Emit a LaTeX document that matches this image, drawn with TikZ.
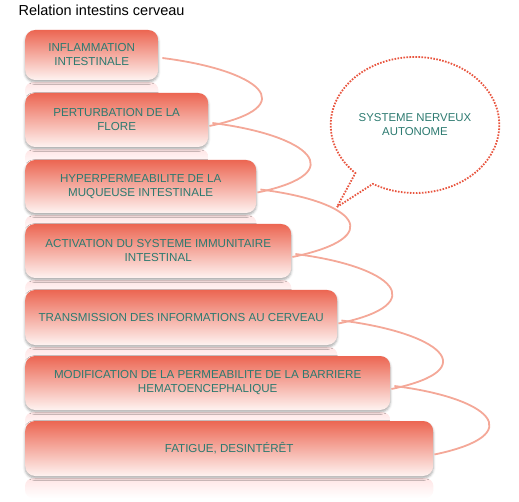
\documentclass[tikz,border=0pt]{standalone}
\usepackage{fontspec}
\setmainfont{Liberation Sans}
\usepackage{tikz}
\usetikzlibrary{shapes.callouts}
\usetikzlibrary{shadows.blur}
\usetikzlibrary{backgrounds}

\definecolor{boxtop}{RGB}{236,102,82}
\definecolor{boxbot}{RGB}{254,243,241}
\definecolor{txtteal}{RGB}{44,122,112}
\definecolor{linkred}{RGB}{244,168,152}
\definecolor{dotred}{RGB}{232,86,64}

\tikzset{
  stepbox/.style={rounded corners=10pt, top color=boxtop, bottom color=boxbot,
    anchor=west, inner sep=0pt, text=txtteal, align=center,
    font=\fontsize{11.6}{14}\selectfont,
    blur shadow={shadow xshift=0pt, shadow yshift=-2pt, shadow opacity=35, shadow blur radius=2.5pt}},
  mirror/.style={rounded corners=8pt, top color=red!10, bottom color=white},
  link/.style={draw=linkred, line width=1.8pt},
  bubble/.style={ellipse callout, draw=dotred, line width=1.8pt,
    dash pattern=on 1.6pt off 1.4pt, minimum width=160pt, minimum height=136pt,
    text=txtteal, align=center, font=\fontsize{11.4}{14}\selectfont}
}

\begin{document}
\begin{tikzpicture}[x=1pt,y=-1pt]
\useasboundingbox (0,0) rectangle (519,502);

\node[anchor=base west, font=\fontsize{14.5}{17}\selectfont] (title) at (15,16) {Relation intestins cerveau};

% the steps
\node[stepbox, minimum width=133pt, minimum height=50pt] (b1) at (25,55) {INFLAMMATION\\INTESTINALE};
\node[stepbox, minimum width=183pt, minimum height=54pt] (b2) at (25,120) {PERTURBATION DE LA\\FLORE};
\node[stepbox, minimum width=231pt, minimum height=53pt] (b3) at (25,186.5) {HYPERPERMEABILITE DE LA\\MUQUEUSE INTESTINALE};
\node[stepbox, minimum width=266pt, minimum height=54pt] (b4) at (25,251) {ACTIVATION DU SYSTEME IMMUNITAIRE\\INTESTINAL};
\node[stepbox, minimum width=312pt, minimum height=55pt] (b5) at (25,317.5) {TRANSMISSION DES INFORMATIONS AU CERVEAU};
\node[stepbox, minimum width=365pt, minimum height=54pt] (b6) at (25,383) {MODIFICATION DE LA PERMEABILITE DE LA BARRIERE\\HEMATOENCEPHALIQUE};
\node[stepbox, minimum width=408pt, minimum height=55pt] (b7) at (25,448.5) {FATIGUE, DESINTÉRÊT};

% reflections under the steps
\begin{scope}[on background layer]
\shade[mirror] ([yshift=-2pt]b1.south west) rectangle ([yshift=-20pt]b1.south east);
\shade[mirror] ([yshift=-2pt]b2.south west) rectangle ([yshift=-20pt]b2.south east);
\shade[mirror] ([yshift=-2pt]b3.south west) rectangle ([yshift=-20pt]b3.south east);
\shade[mirror] ([yshift=-2pt]b4.south west) rectangle ([yshift=-20pt]b4.south east);
\shade[mirror] ([yshift=-2pt]b5.south west) rectangle ([yshift=-20pt]b5.south east);
\shade[mirror] ([yshift=-2pt]b6.south west) rectangle ([yshift=-20pt]b6.south east);
\shade[mirror] ([yshift=-2pt]b7.south west) rectangle ([yshift=-22pt]b7.south east);
\end{scope}

% links
\draw[link] ([xshift=4pt,yshift=-3pt]b1.east) .. controls +(96,12) and +(96,-20) .. ([xshift=1pt,yshift=-6pt]b2.east);
\draw[link] ([xshift=4pt,yshift=-3pt]b2.east) .. controls +(96,12) and +(96,-20) .. ([xshift=1pt,yshift=-6pt]b3.east);
\draw[link] ([xshift=4pt,yshift=-3pt]b3.east) .. controls +(96,12) and +(96,-20) .. ([xshift=1pt,yshift=-6pt]b4.east);
\draw[link] ([xshift=4pt,yshift=-3pt]b4.east) .. controls +(96,12) and +(96,-20) .. ([xshift=1pt,yshift=-6pt]b5.east);
\draw[link] ([xshift=4pt,yshift=-3pt]b5.east) .. controls +(96,12) and +(96,-20) .. ([xshift=1pt,yshift=-6pt]b6.east);
\draw[link] ([xshift=4pt,yshift=-3pt]b6.east) .. controls +(96,12) and +(96,-20) .. ([xshift=1pt,yshift=-6pt]b7.east);

% bubble
\coordinate (tip) at (337,207);
\node[bubble, callout absolute pointer={(tip)}] (sna) at (415,125) {SYSTEME NERVEUX\\AUTONOME};
\end{tikzpicture}
\end{document}
